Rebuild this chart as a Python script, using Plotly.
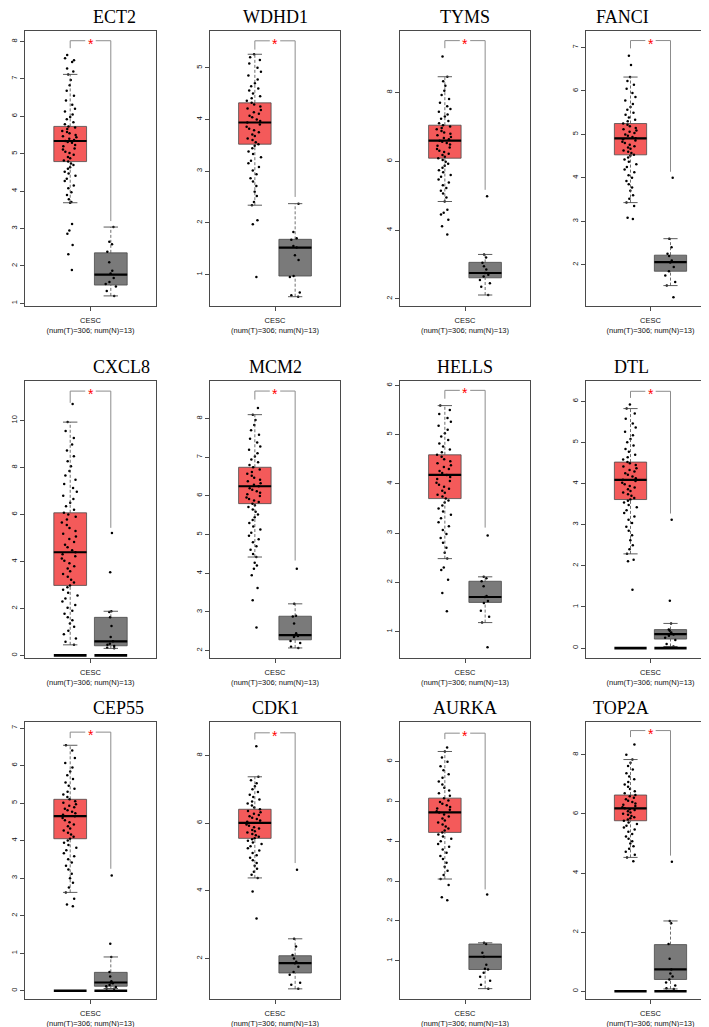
import plotly.graph_objects as go

genes = ["ECT2", "WDHD1", "TYMS", "FANCI", "CXCL8", "MCM2", "HELLS", "DTL",
         "CEP55", "CDK1", "AURKA", "TOP2A"]
x_label = "CESC<br>(num(T)=306; num(N)=13)"

# ---- tumor sample values ----
ECT2_T = [1.89, 2.31, 2.56, 2.86, 2.95, 3.12, 3.69, 3.71, 3.78, 3.9, 3.97, 4.08, 4.15, 4.27, 4.33, 4.41, 4.47,
          4.52, 4.6, 4.64, 4.7, 4.74, 4.79, 4.82, 4.88, 4.91, 4.97, 5.02, 5.05, 5.11, 5.14, 5.2, 5.23, 5.29,
          5.31, 5.34, 5.37, 5.4, 5.44, 5.47, 5.5, 5.55, 5.58, 5.61, 5.66, 5.7, 5.73, 5.79, 5.84, 5.92, 5.98,
          6.05, 6.13, 6.2, 6.31, 6.42, 6.55, 6.68, 6.83, 6.97, 7.12, 7.2, 7.28, 7.45, 7.5, 7.55, 7.64]
WDHD1_T = [0.95, 1.97, 2.05, 2.34, 2.4, 2.52, 2.6, 2.71, 2.8, 2.86, 2.94, 3.01, 3.08, 3.15, 3.2, 3.27, 3.33,
           3.38, 3.44, 3.49, 3.52, 3.56, 3.6, 3.63, 3.68, 3.71, 3.75, 3.79, 3.82, 3.86, 3.9, 3.94, 3.97, 4.0,
           4.04, 4.07, 4.11, 4.14, 4.18, 4.21, 4.25, 4.29, 4.32, 4.36, 4.41, 4.45, 4.5, 4.56, 4.6, 4.64, 4.7,
           4.77, 4.85, 4.92, 5.0, 5.08, 5.15, 5.2, 5.26]
TYMS_T = [3.87, 4.11, 4.3, 4.45, 4.5, 4.59, 4.83, 4.95, 5.06, 5.14, 5.22, 5.3, 5.38, 5.47, 5.55, 5.6, 5.68,
          5.74, 5.81, 5.87, 5.93, 5.99, 6.04, 6.09, 6.13, 6.18, 6.22, 6.27, 6.31, 6.36, 6.4, 6.45, 6.49, 6.53,
          6.57, 6.6, 6.64, 6.68, 6.71, 6.76, 6.8, 6.84, 6.88, 6.93, 6.97, 7.01, 7.05, 7.11, 7.17, 7.24, 7.3,
          7.36, 7.44, 7.52, 7.6, 7.7, 7.81, 7.93, 8.05, 8.2, 8.33, 8.46, 9.05]
FANCI_T = [3.05, 3.08, 3.35, 3.43, 3.52, 3.6, 3.7, 3.78, 3.85, 3.93, 4.0, 4.06, 4.13, 4.19, 4.25, 4.31, 4.37,
           4.42, 4.47, 4.51, 4.53, 4.57, 4.6, 4.63, 4.67, 4.7, 4.73, 4.76, 4.8, 4.83, 4.86, 4.89, 4.91, 4.94,
           4.97, 5.0, 5.03, 5.06, 5.09, 5.12, 5.15, 5.19, 5.22, 5.25, 5.3, 5.34, 5.39, 5.45, 5.5, 5.57, 5.63,
           5.7, 5.78, 5.86, 5.95, 6.05, 6.14, 6.23, 6.32, 6.6, 6.81]
CXCL8_T = [0.45, 0.58, 0.72, 0.9, 1.05, 1.22, 1.36, 1.5, 1.62, 1.77, 1.9, 2.03, 2.15, 2.3, 2.42, 2.55, 2.67,
           2.8, 2.9, 2.98, 3.1, 3.22, 3.35, 3.46, 3.58, 3.7, 3.8, 3.92, 4.03, 4.12, 4.22, 4.31, 4.39, 4.48,
           4.6, 4.71, 4.83, 4.95, 5.06, 5.18, 5.3, 5.42, 5.55, 5.66, 5.78, 5.9, 6.0, 6.07, 6.2, 6.35, 6.5,
           6.66, 6.8, 6.97, 7.13, 7.3, 7.48, 7.66, 7.85, 8.05, 8.26, 8.48, 8.72, 8.98, 9.25, 9.55, 9.93, 10.7]
MCM2_T = [2.6, 3.3, 3.62, 3.95, 4.12, 4.2, 4.27, 4.42, 4.5, 4.61, 4.7, 4.8, 4.88, 4.97, 5.05, 5.13, 5.21,
          5.3, 5.38, 5.45, 5.52, 5.59, 5.65, 5.71, 5.76, 5.8, 5.84, 5.88, 5.92, 5.96, 6.0, 6.04, 6.08, 6.12,
          6.16, 6.2, 6.25, 6.29, 6.33, 6.38, 6.42, 6.47, 6.52, 6.57, 6.62, 6.68, 6.74, 6.8, 6.87, 6.94, 7.02,
          7.1, 7.19, 7.28, 7.38, 7.48, 7.58, 7.7, 7.83, 7.96, 8.1, 8.27]
HELLS_T = [1.41, 1.78, 2.05, 2.25, 2.3, 2.48, 2.6, 2.7, 2.8, 2.9, 2.98, 3.06, 3.14, 3.22, 3.3, 3.37, 3.44,
           3.5, 3.56, 3.62, 3.66, 3.7, 3.74, 3.78, 3.82, 3.86, 3.9, 3.94, 3.98, 4.02, 4.06, 4.1, 4.14, 4.18,
           4.22, 4.26, 4.3, 4.34, 4.38, 4.42, 4.46, 4.5, 4.55, 4.59, 4.64, 4.7, 4.76, 4.82, 4.89, 4.96, 5.03,
           5.1, 5.18, 5.26, 5.34, 5.42, 5.5, 5.59]
DTL_T = [1.42, 2.11, 2.15, 2.29, 2.4, 2.5, 2.62, 2.74, 2.85, 2.95, 3.04, 3.12, 3.2, 3.28, 3.35, 3.42, 3.48,
         3.54, 3.58, 3.61, 3.65, 3.7, 3.74, 3.78, 3.82, 3.86, 3.9, 3.94, 3.98, 4.02, 4.06, 4.09, 4.13, 4.17,
         4.21, 4.25, 4.29, 4.33, 4.37, 4.41, 4.45, 4.49, 4.52, 4.58, 4.64, 4.7, 4.77, 4.84, 4.92, 5.0, 5.08,
         5.17, 5.26, 5.36, 5.46, 5.57, 5.7, 5.82, 5.92]
CEP55_T = [2.25, 2.3, 2.45, 2.62, 2.75, 2.88, 3.0, 3.12, 3.23, 3.33, 3.42, 3.5, 3.58, 3.66, 3.74, 3.81, 3.88,
           3.94, 4.0, 4.05, 4.1, 4.16, 4.21, 4.27, 4.32, 4.38, 4.43, 4.49, 4.54, 4.6, 4.65, 4.69, 4.73, 4.77,
           4.81, 4.85, 4.89, 4.93, 4.97, 5.01, 5.05, 5.1, 5.16, 5.23, 5.3, 5.38, 5.46, 5.55, 5.64, 5.74, 5.84,
           5.95, 6.07, 6.2, 6.4, 6.54]
CDK1_T = [3.18, 3.98, 4.38, 4.47, 4.56, 4.65, 4.74, 4.82, 4.9, 4.98, 5.05, 5.12, 5.19, 5.26, 5.32, 5.38, 5.43,
          5.48, 5.52, 5.55, 5.6, 5.64, 5.68, 5.72, 5.76, 5.8, 5.84, 5.88, 5.92, 5.96, 6.01, 6.04, 6.08, 6.12,
          6.16, 6.2, 6.24, 6.28, 6.32, 6.36, 6.41, 6.46, 6.52, 6.58, 6.64, 6.7, 6.77, 6.84, 6.92, 7.0, 7.09,
          7.18, 7.27, 7.37, 8.27]
AURKA_T = [2.52, 2.59, 2.9, 3.05, 3.15, 3.26, 3.36, 3.46, 3.55, 3.63, 3.71, 3.79, 3.86, 3.93, 4.0, 4.06, 4.12,
           4.17, 4.22, 4.27, 4.32, 4.37, 4.42, 4.47, 4.52, 4.57, 4.62, 4.67, 4.72, 4.75, 4.79, 4.82, 4.86, 4.9,
           4.94, 4.98, 5.02, 5.08, 5.14, 5.2, 5.27, 5.34, 5.42, 5.5, 5.59, 5.68, 5.78, 5.88, 5.99, 6.1, 6.25,
           6.35]
TOP2A_T = [4.4, 4.53, 4.62, 4.72, 4.82, 4.91, 5.0, 5.08, 5.16, 5.24, 5.32, 5.4, 5.47, 5.54, 5.6, 5.66, 5.71,
           5.77, 5.81, 5.85, 5.89, 5.93, 5.97, 6.01, 6.05, 6.09, 6.13, 6.16, 6.19, 6.23, 6.27, 6.31, 6.35, 6.4,
           6.45, 6.5, 6.55, 6.6, 6.64, 6.7, 6.77, 6.84, 6.92, 7.0, 7.08, 7.17, 7.27, 7.38, 7.5, 7.62, 7.73,
           7.84, 8.0, 8.35]

# ---- normal sample values ----
ECT2_N = [3.04, 2.65, 2.58, 2.38, 2.1, 1.87, 1.8, 1.68, 1.57, 1.52, 1.45, 1.33, 1.2]
WDHD1_N = [2.37, 1.82, 1.7, 1.67, 1.55, 1.52, 1.37, 1.28, 0.97, 0.95, 0.65, 0.6, 0.57]
TYMS_N = [4.98, 3.29, 3.2, 3.05, 2.95, 2.85, 2.75, 2.7, 2.65, 2.55, 2.45, 2.35, 2.11]
FANCI_N = [4.0, 2.6, 2.4, 2.25, 2.2, 2.1, 2.05, 1.95, 1.85, 1.75, 1.6, 1.52, 1.25]
CXCL8_N = [5.21, 3.54, 1.88, 1.85, 1.62, 1.25, 0.78, 0.6, 0.5, 0.45, 0.4, 0.33, 0.3]
MCM2_N = [4.12, 3.21, 2.9, 2.88, 2.7, 2.45, 2.4, 2.38, 2.35, 2.25, 2.2, 2.1, 2.07]
HELLS_N = [2.95, 2.11, 2.08, 2.02, 1.92, 1.72, 1.7, 1.62, 1.58, 1.42, 1.3, 1.18, 0.68]
DTL_N = [3.12, 1.15, 0.6, 0.45, 0.42, 0.38, 0.35, 0.33, 0.3, 0.25, 0.2, 0.1, 0.04]
CEP55_N = [3.07, 1.25, 0.9, 0.5, 0.38, 0.25, 0.22, 0.2, 0.15, 0.12, 0.1, 0.06, 0.05]
CDK1_N = [4.62, 2.58, 2.35, 2.1, 2.0, 1.9, 1.86, 1.75, 1.6, 1.52, 1.28, 1.22, 1.1]
AURKA_N = [2.66, 1.45, 1.42, 1.2, 1.1, 0.9, 0.8, 0.78, 0.7, 0.6, 0.5, 0.4, 0.3]
TOP2A_N = [4.38, 2.38, 2.3, 1.6, 1.1, 0.74, 0.6, 0.5, 0.4, 0.3, 0.2, 0.1, 0.08]

tumor_values = [ECT2_T, WDHD1_T, TYMS_T, FANCI_T, CXCL8_T, MCM2_T, HELLS_T, DTL_T,
                CEP55_T, CDK1_T, AURKA_T, TOP2A_T]
normal_values = [ECT2_N, WDHD1_N, TYMS_N, FANCI_N, CXCL8_N, MCM2_N, HELLS_N, DTL_N,
                 CEP55_N, CDK1_N, AURKA_N, TOP2A_N]

# ---- box statistics (tumor) ----
t_q1 = [4.79, 3.52, 6.09, 4.53, 2.98, 5.80, 3.70, 3.61, 4.05, 5.55, 4.22, 5.77]
t_med = [5.34, 3.94, 6.60, 4.91, 4.39, 6.25, 4.18, 4.09, 4.65, 6.01, 4.72, 6.19]
t_q3 = [5.73, 4.32, 7.05, 5.25, 6.07, 6.74, 4.59, 4.52, 5.10, 6.41, 5.08, 6.64]
t_lo = [3.69, 2.34, 4.83, 3.43, 0.45, 4.42, 2.48, 2.29, 2.62, 4.38, 3.05, 4.53]
t_hi = [7.12, 5.26, 8.46, 6.32, 9.93, 8.10, 5.59, 5.82, 6.54, 7.37, 6.25, 7.84]
# ---- box statistics (normal) ----
n_q1 = [1.49, 0.97, 2.61, 1.85, 0.41, 2.28, 1.59, 0.22, 0.12, 1.57, 0.78, 0.40]
n_med = [1.77, 1.52, 2.75, 2.06, 0.60, 2.40, 1.70, 0.34, 0.22, 1.86, 1.10, 0.74]
n_q3 = [2.35, 1.68, 3.06, 2.22, 1.62, 2.89, 2.02, 0.45, 0.49, 2.08, 1.42, 1.58]
n_lo = [1.20, 0.57, 2.11, 1.52, 0.30, 2.07, 1.18, 0.04, 0.06, 1.10, 0.30, 0.08]
n_hi = [3.04, 2.37, 3.29, 2.60, 1.88, 3.21, 2.11, 0.60, 0.90, 2.58, 1.45, 2.38]
# zero-expression bars present in panel (1 = yes)
zero_bar = [0, 0, 0, 0, 1, 0, 0, 1, 1, 0, 0, 1]
zero_level = 0.0
# significance bracket levels
br_top = [8.02, 5.52, 9.51, 7.16, 11.25, 8.71, 5.90, 6.24, 6.89, 8.67, 6.71, 8.82]
br_left = [7.82, 5.35, 9.29, 6.98, 10.75, 8.49, 5.73, 6.08, 6.73, 8.47, 6.56, 8.60]
br_right = [3.20, 2.50, 5.17, 4.14, 5.43, 4.33, 3.11, 3.27, 3.25, 4.82, 2.79, 4.59]
# y axes
y_min = [0.93, 0.39, 1.79, 1.05, -0.11, 1.81, 0.46, -0.24, -0.22, 0.80, 0.04, -0.26]
y_max = [8.28, 5.71, 9.79, 7.38, 11.68, 8.97, 6.09, 6.49, 7.16, 8.99, 6.99, 9.11]
y_dtick = [1, 1, 2, 1, 2, 1, 1, 1, 1, 2, 1, 2]

# ---- layout geometry (pixels) ----
W, H = 709, 1027
col_px = [(17, 148), (202, 332), (392, 522), (578, 707)]
row_px = [(23, 298), (373, 650), (714, 991)]
XT, XN, BW, CAPW, GAP = 0.345, 0.655, 0.25, 0.11, 0.04
RED, GRAY = "#F45A5A", "#7A7A7A"
EDGE = "#4A4A4A"

fig = go.Figure()
layout = dict(width=W, height=H, margin=dict(l=0, r=0, t=0, b=0),
              paper_bgcolor="white", plot_bgcolor="white", showlegend=False,
              boxmode="overlay", annotations=[])


def line(xs, ys, xa, ya, color, width, dash="solid"):
    fig.add_trace(go.Scatter(x=xs, y=ys, mode="lines", xaxis=xa, yaxis=ya,
                             line=dict(color=color, width=width, dash=dash),
                             hoverinfo="skip", showlegend=False))


for i, g in enumerate(genes):
    r, c = divmod(i, 4)
    k = "" if i == 0 else str(i + 1)
    xa, ya = "x" + k, "y" + k
    x0, x1 = col_px[c]
    y0, y1 = row_px[r]
    xdom = [x0 / W, x1 / W]
    ydom = [1 - y1 / H, 1 - y0 / H]
    layout["xaxis" + k] = dict(domain=xdom, anchor=ya, range=[0, 1], tickvals=[0.5],
                               ticktext=[x_label], ticks="outside", ticklen=4, tickcolor=EDGE,
                               tickfont=dict(family="Liberation Sans", size=7.5, color="#111"),
                               showline=True, mirror=True, linecolor=EDGE, linewidth=1,
                               showgrid=False, zeroline=False, ticklabelstandoff=3)
    layout["yaxis" + k] = dict(domain=ydom, anchor=xa, range=[y_min[i], y_max[i]],
                               tick0=0, dtick=y_dtick[i], ticks="outside", ticklen=4,
                               tickcolor=EDGE, tickangle=-90,
                               tickfont=dict(family="Liberation Sans", size=7.5, color="#111"),
                               showline=True, mirror=True, linecolor=EDGE, linewidth=1,
                               showgrid=False, zeroline=False)

    stats = [(XT, t_q1[i], t_med[i], t_q3[i], t_lo[i], t_hi[i], RED),
             (XN, n_q1[i], n_med[i], n_q3[i], n_lo[i], n_hi[i], GRAY)]
    # boxes
    for (xc, q1, md, q3, lo, hi, col) in stats:
        fig.add_trace(go.Box(x=[xc], q1=[q1], median=[md], q3=[q3], lowerfence=[q1],
                             upperfence=[q3], width=BW, fillcolor=col, boxpoints=False,
                             line=dict(color=EDGE, width=0.8), xaxis=xa, yaxis=ya,
                             hoverinfo="skip", whiskerwidth=0))
    # whiskers
    for (xc, q1, md, q3, lo, hi, col) in stats:
        line([xc, xc], [q3, hi], xa, ya, EDGE, 0.8, "3px,2px")
        line([xc, xc], [lo, q1], xa, ya, EDGE, 0.8, "3px,2px")
        line([xc - CAPW / 2, xc + CAPW / 2], [hi, hi], xa, ya, EDGE, 0.9)
        line([xc - CAPW / 2, xc + CAPW / 2], [lo, lo], xa, ya, EDGE, 0.9)
    # zero bars
    if zero_bar[i]:
        for xc in (XT, XN):
            line([xc - BW / 2, xc + BW / 2], [zero_level, zero_level], xa, ya, "black", 2.6)
    # jittered points
    for xc, vals, jit in ((XT, tumor_values[i], 0.55), (XN, normal_values[i], 0.4)):
        fig.add_trace(go.Box(x=[xc] * len(vals), y=vals, width=BW, boxpoints="all",
                             jitter=jit, pointpos=0, fillcolor="rgba(0,0,0,0)",
                             line=dict(color="rgba(0,0,0,0)", width=0),
                             marker=dict(color="black", size=2.5), xaxis=xa, yaxis=ya,
                             hoverinfo="skip"))
    # medians
    for (xc, q1, md, q3, lo, hi, col) in stats:
        line([xc - BW / 2, xc + BW / 2], [md, md], xa, ya, "black", 2.2)
    # significance bracket
    line([XT, XT, 0.5 - GAP], [br_left[i], br_top[i], br_top[i]], xa, ya, "#8C8C8C", 1)
    line([0.5 + GAP, XN, XN], [br_top[i], br_top[i], br_right[i]], xa, ya, "#8C8C8C", 1)
    layout["annotations"].append(dict(x=0.5, y=br_top[i], xref=xa, yref=ya, text="*",
                                      showarrow=False, yanchor="middle", yshift=-3,
                                      font=dict(family="Liberation Sans", size=14, color="red")))
    # title
    layout["annotations"].append(dict(x=(xdom[0] + xdom[1]) / 2, y=ydom[1], xref="paper",
                                      yref="paper", text=g, showarrow=False,
                                      yanchor="middle", yshift=14,
                                      font=dict(family="Liberation Serif", size=18, color="black")))

fig.update_layout(**layout)
fig.write_html("out.html")
